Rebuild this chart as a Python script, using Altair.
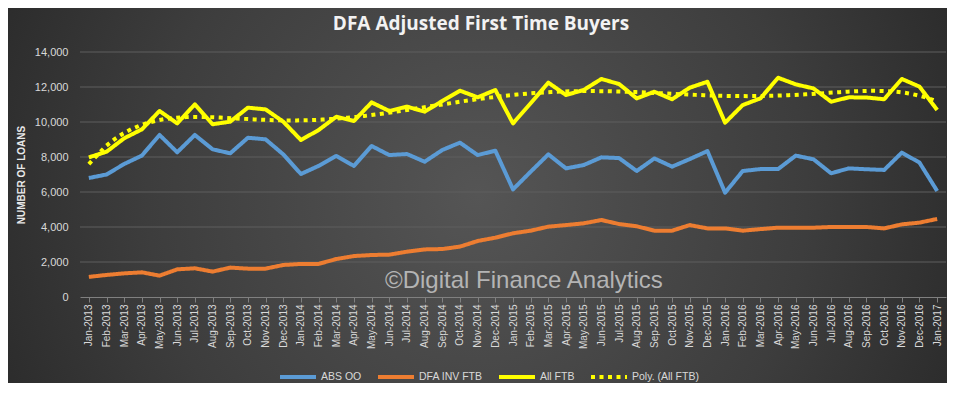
import json
import altair as alt
import pandas as pd

# ---------------- data ----------------
month_abbr = ["Jan", "Feb", "Mar", "Apr", "May", "Jun", "Jul", "Aug", "Sep", "Oct", "Nov", "Dec"]
years = [2013, 2014, 2015, 2016]
months = [f"{m}-{y}" for y in years for m in month_abbr] + ["Jan-2017"]

abs_oo = [6800, 7000, 7600, 8080, 9260, 8270, 9260, 8440, 8210, 9100, 9010, 8150,
          7030, 7490, 8060, 7490, 8630, 8110, 8170, 7730, 8400, 8820, 8110, 8360,
          6150, 7160, 8150, 7350, 7540, 7980, 7940, 7200, 7920, 7450, 7880, 8340,
          5960, 7200, 7310, 7310, 8080, 7870, 7070, 7350, 7300, 7260, 8250, 7680,
          6060]
dfa_inv_ftb = [1150, 1260, 1350, 1410, 1220, 1580, 1640, 1450, 1680, 1620, 1620, 1830,
               1890, 1890, 2170, 2340, 2400, 2420, 2590, 2720, 2740, 2880, 3200, 3390,
               3640, 3790, 4020, 4110, 4210, 4400, 4170, 4040, 3790, 3790, 4110, 3920,
               3920, 3790, 3880, 3960, 3960, 3960, 4000, 4000, 4000, 3920, 4150, 4250,
               4460]
all_ftb = [7980, 8300, 9070, 9580, 10630, 9920, 11010, 9870, 10020, 10820, 10720, 10020,
           8970, 9540, 10300, 10060, 11120, 10630, 10880, 10590, 11200, 11790, 11410, 11830,
           9920, 11070, 12250, 11540, 11830, 12460, 12170, 11350, 11730, 11300, 11960, 12300,
           9960, 10970, 11350, 12530, 12150, 11920, 11160, 11410, 11400, 11300, 12460, 12020,
           10690]

series_names = ["ABS OO", "DFA INV FTB", "All FTB", "Poly. (All FTB)"]
series_colors = ["#5B9BD5", "#ED7D31", "#FFFF00", "#FFFF00"]
series_dashes = [[1, 0], [1, 0], [1, 0], [4, 4.5]]

y_ticks = [0, 2000, 4000, 6000, 8000, 10000, 12000, 14000]

title_text = "DFA Adjusted First Time Buyers"
y_title = "NUMBER OF LOANS"
watermark = "\u00a9Digital Finance Analytics"

rows = []
for name, vals in zip(series_names[:3], [abs_oo, dfa_inv_ftb, all_ftb]):
    for i, v in enumerate(vals):
        rows.append({"idx": i, "series": name, "value": v})
df = pd.DataFrame(rows)

W, H = 866, 245
PAD = {"left": 72, "top": 44, "right": 1, "bottom": 86}

label_expr = json.dumps(months) + "[datum.value]"
LABEL_FONT = "Liberation Sans"

x_scale = alt.Scale(domain=[-0.5, 48.5], nice=False, zero=False)
y_scale = alt.Scale(domain=[0, 14000], nice=False)

x_axis = alt.Axis(
    values=list(range(len(months))), labelExpr=label_expr, labelAngle=270,
    title=None, grid=False, domainColor="#808080", tickColor="#808080",
    tickSize=5, labelColor="#d9d9d9", labelFontSize=10, labelFont=LABEL_FONT,
    labelPadding=2, labelOverlap=False, zindex=1,
)
y_axis = alt.Axis(
    values=y_ticks, labelExpr="format(datum.value, ',')", title=y_title,
    grid=False, domain=False, ticks=False,
    labelPadding=12, labelColor="#d9d9d9", labelFontSize=11, labelFont=LABEL_FONT,
    titleColor="#e8e8e8", titleFontSize=10, titleFontWeight="bold",
    titleFont=LABEL_FONT, titlePadding=8, zindex=1,
)

x_enc = alt.X("idx:Q", scale=x_scale, axis=x_axis)
y_enc = alt.Y("value:Q", scale=y_scale, axis=y_axis)
color_enc = alt.Color(
    "series:N",
    scale=alt.Scale(domain=series_names, range=series_colors),
    legend=alt.Legend(title=None),
)
dash_enc = alt.StrokeDash(
    "series:N",
    scale=alt.Scale(domain=series_names, range=series_dashes),
    legend=alt.Legend(title=None),
)

bg = alt.Chart(alt.Data(values=[{"k": 1}])).mark_rect(
    fill=alt.RadialGradient(
        gradient="radial",
        stops=[
            alt.GradientStop(offset=0, color="#555555"),
            alt.GradientStop(offset=0.45, color="#3d3d3d"),
            alt.GradientStop(offset=1, color="#171717"),
        ],
        x1=0.5, y1=0.5, r1=0, x2=0.5, y2=0.5, r2=0.78,
    ),
    stroke=None,
).encode(
    x=alt.value(-PAD["left"]), x2=alt.value(W + PAD["right"]),
    y=alt.value(-PAD["top"]), y2=alt.value(H + PAD["bottom"]),
)

grid = alt.Chart(alt.Data(values=[{"value": v} for v in y_ticks[1:]])).mark_rule(
    color="#5e5e5e", strokeWidth=1
).encode(y=alt.Y("value:Q", scale=y_scale, axis=y_axis))

wm = alt.Chart(alt.Data(values=[{"t": watermark}])).mark_text(
    align="left", baseline="alphabetic", fontSize=24, font=LABEL_FONT,
    color="#b4b4b4",
).encode(text="t:N", x=alt.value(305), y=alt.value(236))

title = alt.Chart(alt.Data(values=[{"t": title_text}])).mark_text(
    align="center", baseline="alphabetic", fontSize=19, font="Open Sans",
    fontWeight="bold", color="#f2f2f2",
).encode(text="t:N", x=alt.value(401), y=alt.value(-22))

lines = alt.Chart(df).mark_line(strokeWidth=4, strokeJoin="round").encode(
    x=x_enc, y=y_enc, color=color_enc, strokeDash=dash_enc,
    detail="series:N",
)

poly = alt.Chart(df).transform_filter(
    alt.datum.series == "All FTB"
).transform_regression(
    "idx", "value", method="poly", order=6
).transform_calculate(
    series="'Poly. (All FTB)'"
).mark_line(strokeWidth=4).encode(
    x=x_enc, y=y_enc, color=color_enc, strokeDash=dash_enc,
)

chart = alt.layer(bg, grid, wm, title, lines, poly).properties(
    width=W, height=H,
    padding=PAD,
    autosize=alt.AutoSizeParams(type="none"),
).configure(
    background="#2b2b2b",
).configure_view(
    stroke=None,
).configure_legend(
    orient="none", legendX=198, legendY=305, direction="horizontal",
    symbolType="stroke", symbolSize=1296, symbolStrokeWidth=4,
    labelColor="#d9d9d9", labelFontSize=10.5, labelFont=LABEL_FONT,
    columnPadding=8, labelOffset=3, zindex=1,
)

chart.save("out.html", embed_options={"renderer": "svg", "actions": False})
